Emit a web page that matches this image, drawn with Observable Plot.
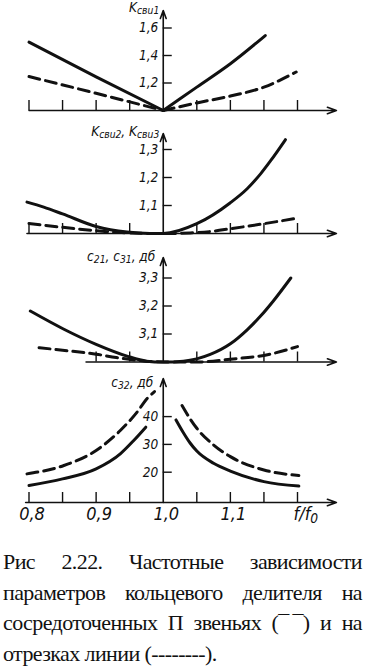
<!DOCTYPE html>
<html><head><meta charset="utf-8">
<script src="https://cdn.jsdelivr.net/npm/d3@7"></script>
<script src="https://cdn.jsdelivr.net/npm/@observablehq/plot@0.6"></script>
<style>
body{margin:0;background:#fff;width:365px;overflow:hidden}
#chart svg{display:block}
#chart svg text{font-stretch:condensed}
.cap{font-family:"Liberation Serif","Times New Roman",serif;font-size:22px;line-height:30.5px;color:#111;padding:12px 3px 0 3px;letter-spacing:-0.6px}
.cap div{white-space:nowrap}
.cap .j{text-align:justify;text-align-last:justify;white-space:normal}
</style></head><body>
<div id="chart"></div>
<div class="cap">
<div class="j">Рис 2.22. Частотные зависимости</div>
<div class="j">параметров кольцевого делителя на</div>
<div class="j">сосредоточенных П звеньях (¯&#8201;¯) и на</div>
<div>отрезках линии (--------).</div>
</div>
<script>
// ---------- data ----------
const xTicks = [0.8, 0.85, 0.9, 0.95, 1.05, 1.1, 1.15, 1.2];
const xLabelVals = [0.8, 0.9, 1.0, 1.1];
const xLabels = ["0,8", "0,9", "1,0", "1,1"];
const xTitle = "f/f_{0}";

// panel 1: Kсв u1
const k1Ticks = [1.2, 1.4, 1.6];
const k1Labels = ["1,2", "1,4", "1,6"];
const k1SolidLeft = [[0.8, 1.497], [0.9, 1.245], [1.0, 1.0]];
const k1SolidRight = [[1.0, 1.0], [1.05, 1.17], [1.1, 1.34], [1.152, 1.545]];
const k1DashLeft = [[0.8, 1.247], [0.9, 1.125], [1.0, 1.0]];
const k1DashRight = [[1.0, 1.0], [1.05, 1.055], [1.1, 1.105], [1.15, 1.17], [1.198, 1.28]];

// panel 2: Kсв u2, Kсв u3
const k2Ticks = [1.1, 1.2, 1.3];
const k2Labels = ["1,1", "1,2", "1,3"];
const k2Solid = [[0.797, 1.112], [0.822, 1.094], [0.85, 1.07], [0.9, 1.025], [0.946, 1.005], [0.98, 1.0], [1.0, 1.0], [1.05, 1.035], [1.1, 1.11], [1.125, 1.16], [1.145, 1.213], [1.16, 1.26], [1.182, 1.335]];
const k2Dash = [[0.8, 1.036], [0.85, 1.022], [0.9, 1.01], [0.95, 1.002], [1.0, 1.0], [1.04, 1.002], [1.07, 1.007], [1.1, 1.017], [1.15, 1.035], [1.2, 1.055]];

// panel 3: c21, c31, дб
const c21Ticks = [3.1, 3.2, 3.3];
const c21Labels = ["3,1", "3,2", "3,3"];
const c21Solid = [[0.802, 3.182], [0.852, 3.117], [0.9, 3.063], [0.946, 3.021], [0.975, 3.003], [1.0, 3.0], [1.03, 3.003], [1.07, 3.027], [1.1, 3.065], [1.125, 3.115], [1.145, 3.164], [1.164, 3.218], [1.19, 3.3]];
const c21Dash = [[0.815, 3.051], [0.85, 3.042], [0.9, 3.028], [0.93, 3.016], [0.97, 3.004], [1.0, 3.0], [1.05, 3.0], [1.1, 3.01], [1.157, 3.027], [1.2, 3.055]];

// panel 4: c32, дб
const c32Ticks = [20, 30, 40];
const c32Labels = ["20", "30", "40"];
const c32SolidLeft = [[0.8, 15.2], [0.85, 17.6], [0.9, 21.2], [0.936, 26.6], [0.956, 31.4], [0.974, 36.2]];
const c32DashLeft = [[0.797, 19.4], [0.852, 22.4], [0.9, 27.8], [0.936, 35], [0.961, 41.6], [0.976, 46.5], [0.987, 49]];
const c32SolidRight = [[1.019, 38.8], [1.03, 34.2], [1.04, 30.5], [1.05, 27.6], [1.075, 23.2], [1.1, 20.4], [1.15, 16.6], [1.202, 15]];
const c32DashRight = [[1.028, 44], [1.04, 39.2], [1.05, 35.8], [1.075, 29.8], [1.1, 25.6], [1.15, 20.8], [1.202, 18.8]];

// ---------- drawing ----------
const INK = "#111";
const FONT = "'DejaVu Sans Condensed','DejaVu Sans','Liberation Sans Narrow',sans-serif";
const W = 365, ML = 28.5, MR = 68;
const X_DOMAIN = [0.8, 1.2];
const ARROW_END = 1.258;
const PX_PER_X = (W - ML - MR) / (X_DOMAIN[1] - X_DOMAIN[0]);

function subify(svg) {
  const ns = "http://www.w3.org/2000/svg";
  svg.querySelectorAll("text").forEach(t => {
    const s = t.textContent;
    if (!s.includes("_{")) return;
    t.textContent = "";
    let shifted = false;
    s.split(/(_\{[^}]*\})/).forEach(p => {
      if (!p) return;
      const ts = document.createElementNS(ns, "tspan");
      if (p.startsWith("_{")) {
        ts.textContent = p.slice(2, -1);
        ts.setAttribute("font-size", "76%");
        ts.setAttribute("dy", "2.5");
        shifted = true;
      } else {
        ts.textContent = p;
        if (shifted) { ts.setAttribute("dy", "-2.5"); shifted = false; }
      }
      t.appendChild(ts);
    });
  });
}

function panel(cfg) {
  const {height, mt, mb, yDomain, axisStart, ticksX, yTicks, yLabels, title, titleDx, titleDy, solid, dashed, bottom} = cfg;
  const base = yDomain[0];
  const pxPerY = (height - mt - mb) / (yDomain[1] - yDomain[0]);
  const tickUp = 10 / pxPerY;
  const tickRight = 9 / PX_PER_X;
  const marks = [
    Plot.arrow([0], {x1: axisStart, x2: ARROW_END, y1: base, y2: base, stroke: INK, strokeWidth: 1.6, headLength: 9, headAngle: 40}),
    Plot.arrow([0], {x1: 1.0, x2: 1.0, y1: base, y2: yDomain[1], stroke: INK, strokeWidth: 1.6, headLength: 8, headAngle: 40}),
    Plot.ruleX(ticksX, {x: d => d, y1: base, y2: base + tickUp, stroke: INK, strokeWidth: 1.4}),
    Plot.ruleY(yTicks, {y: d => d, x1: 1.0, x2: 1.0 + tickRight, stroke: INK, strokeWidth: 1.4}),
    Plot.text(yTicks, {x: 1.0, y: d => d, text: (d, i) => yLabels[i], dx: -5, textAnchor: "end", fontSize: 13.5, fontStyle: "italic", fontFamily: FONT, fill: INK}),
    Plot.text([title], {x: 1.0, y: yDomain[1], text: d => d, dx: titleDx, dy: titleDy, textAnchor: "end", fontSize: 13.5, fontStyle: "italic", fontFamily: FONT, fill: INK})
  ];
  solid.forEach(s => marks.push(Plot.line(s, {curve: "monotone-x", stroke: INK, strokeWidth: 3})));
  dashed.forEach(s => marks.push(Plot.line(s, {curve: "monotone-x", stroke: INK, strokeWidth: 3, strokeDasharray: "11,6"})));
  if (bottom) {
    marks.push(Plot.text(xLabelVals, {x: d => d, y: base, text: (d, i) => xLabels[i], dy: 12, dx: 3, textAnchor: "middle", fontSize: 18, fontStyle: "italic", fontFamily: FONT, fill: INK}));
    marks.push(Plot.text([xTitle], {x: 1.2, y: base, text: d => d, dy: 12, dx: -4, textAnchor: "start", fontSize: 18, fontStyle: "italic", fontFamily: FONT, fill: INK}));
  }
  const svg = Plot.plot({
    width: W, height, marginLeft: ML, marginRight: MR, marginTop: mt, marginBottom: mb,
    x: {domain: X_DOMAIN, axis: null},
    y: {domain: yDomain, axis: null},
    style: {background: "transparent", overflow: "visible"},
    marks
  });
  subify(svg);
  document.getElementById("chart").append(svg);
}

panel({height: 120, mt: 10, mb: 10, yDomain: [1.0, 1.0 + 100 / 137.5], axisStart: 0.8, ticksX: xTicks,
  yTicks: k1Ticks, yLabels: k1Labels, title: "K_{свu1}", titleDx: -4, titleDy: -3,
  solid: [k1SolidLeft, k1SolidRight], dashed: [k1DashLeft, k1DashRight]});
panel({height: 125, mt: 13, mb: 12, yDomain: [1.0, 1.0 + 100 / 280], axisStart: 0.797, ticksX: xTicks,
  yTicks: k2Ticks, yLabels: k2Labels, title: "K_{свu2}, K_{свu3}", titleDx: -4, titleDy: -2,
  solid: [k2Solid], dashed: [k2Dash]});
panel({height: 120, mt: 12, mb: 3.5, yDomain: [3.0, 3.0 + 104.5 / 280], axisStart: 0.885, ticksX: xTicks.filter(d => d >= 0.9),
  yTicks: c21Ticks, yLabels: c21Labels, title: "c_{21}, c_{31}, дб", titleDx: -8, titleDy: -1,
  solid: [c21Solid], dashed: [c21Dash]});
panel({height: 170, mt: 13, mb: 33, yDomain: [9.1, 9.1 + 124 / 2.78], axisStart: 0.795, ticksX: xTicks,
  yTicks: c32Ticks, yLabels: c32Labels, title: "c_{32}, дб", titleDx: -10, titleDy: 4,
  solid: [c32SolidLeft, c32SolidRight], dashed: [c32DashLeft, c32DashRight], bottom: true});
</script>
</body></html>
